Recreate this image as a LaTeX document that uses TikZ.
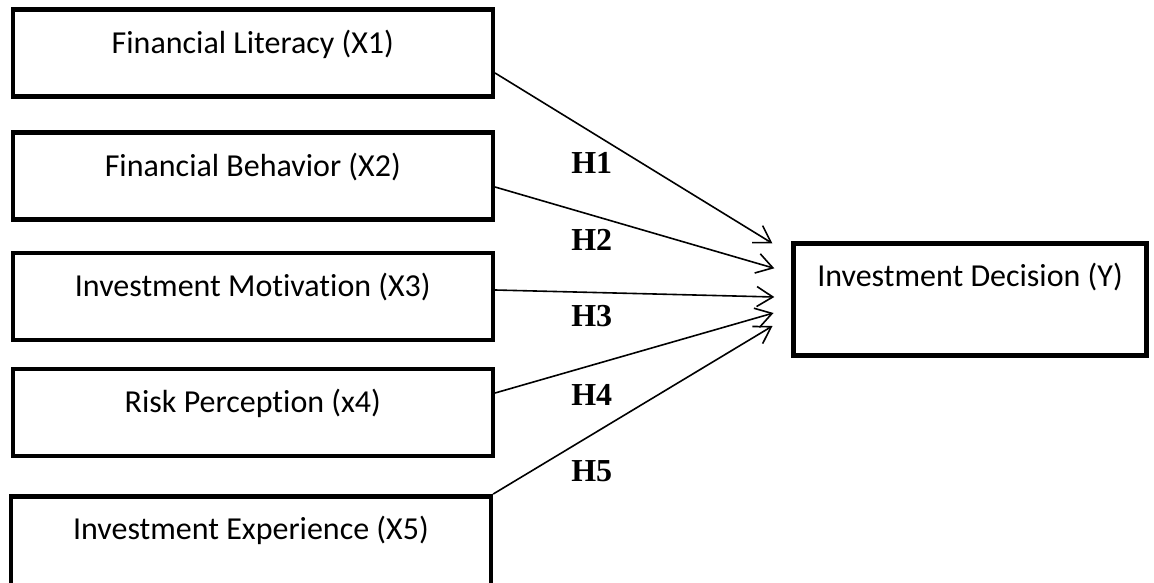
\documentclass[tikz,border=0pt]{standalone}
\usepackage{fontspec}
\setmainfont{Carlito}[Ligatures=NoCommon]
\newfontfamily\hfont{Liberation Serif}
\usetikzlibrary{arrows.meta}
\tikzset{
  varbox/.style={draw=black, line width=4.5pt, rectangle, fill=white,
    minimum width=480pt, minimum height=87pt, inner sep=3pt,
    text height=22pt, text depth=22pt, align=center,
    font=\fontsize{32}{38}\selectfont},
  outbox/.style={varbox, minimum width=353.4pt, minimum height=112.4pt,
    text height=22pt, text depth=49pt},
  link/.style={line width=1.6pt, -{Straight Barb[length=16pt,width=20pt]}},
  hyp/.style={anchor=base, inner sep=0pt, font=\hfont\bfseries\fontsize{32}{38}\selectfont}
}
\begin{document}
\begin{tikzpicture}[x=1pt,y=-1pt]
\useasboundingbox (0,0) rectangle (1154,583);
\fill[white] (0,0) rectangle (1154,583);
\clip (0,0) rectangle (1154,583);

\node[varbox] (b1) at (252.8,53.2) {Financial Literacy (X1)};
\node[varbox] (b2) at (252.8,176.0) {Financial Behavior (X2)};
\node[varbox] (b3) at (252.8,296.5) {Investment Motivation (X3)};
\node[varbox] (b4) at (252.8,412.5) {Risk Perception (x4)};
\node[varbox, minimum height=95pt, text depth=31.5pt] (b5) at (250.9,543.8) {Investment Experience (X5)};
\node[outbox] (y) at (970.0,299.5) {Investment Decision (Y)};

\coordinate (t1) at (772.3,243.3);
\coordinate (t2) at (774.3,268.3);
\coordinate (t3) at (774.3,297.0);
\coordinate (t4) at (773.5,313.0);
\coordinate (t5) at (772.5,326.0);

\draw[link] ([yshift=-19.8pt]b1.east) -- (t1);
\draw[link] ([yshift=-11pt]b2.east) -- (t2);
\draw[link] ([yshift=6.5pt]b3.east) -- (t3);
\draw[link] ([yshift=19.5pt]b4.east) -- (t4);
\draw[link] (b5.north east) -- (t5);

\node[hyp] (h1) at (591.7,173.3) {H1};
\node[hyp] (h2) at (591.7,250.0) {H2};
\node[hyp] (h3) at (591.7,326.7) {H3};
\node[hyp] (h4) at (591.7,405.0) {H4};
\node[hyp] (h5) at (591.7,481.7) {H5};
\end{tikzpicture}
\end{document}
